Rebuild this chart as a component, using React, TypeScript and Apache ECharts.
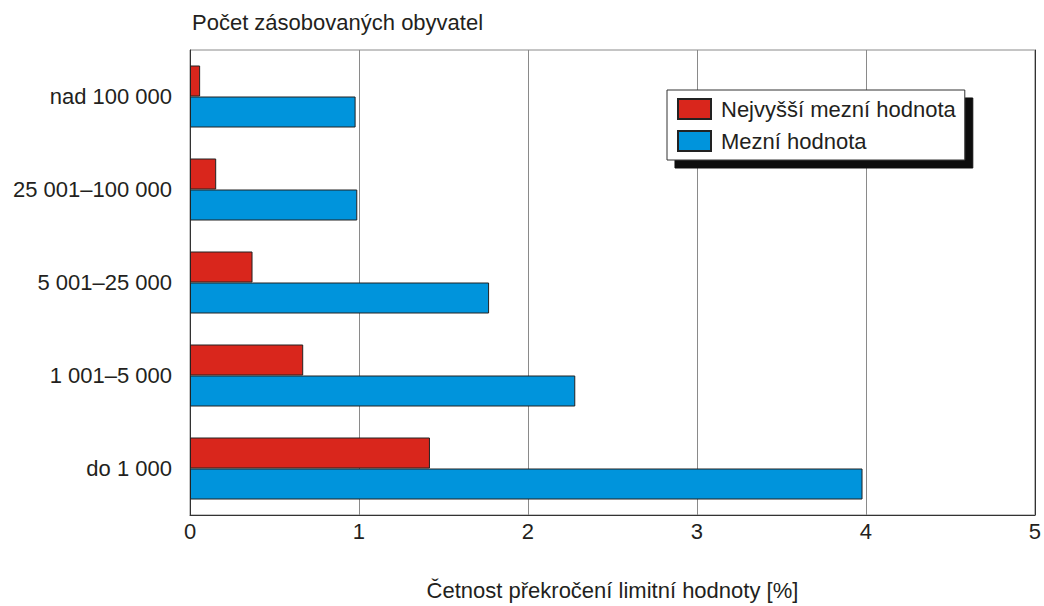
import React, { useEffect, useRef } from "react";
import * as echarts from "echarts";

const categories = ["do 1 000", "1 001–5 000", "5 001–25 000", "25 001–100 000", "nad 100 000"];
const maxLimit = [1.42, 0.67, 0.37, 0.155, 0.06];
const limit = [3.98, 2.28, 1.77, 0.99, 0.98];
const seriesNames = ["Nejvyšší mezní hodnota", "Mezní hodnota"];
const xTicks = [0, 1, 2, 3, 4, 5];

const FONT = "Liberation Sans, Arial, sans-serif";
const TXT = "#231f20";
const FS = 22;

export default function App() {
  const ref = useRef<HTMLDivElement>(null);
  useEffect(() => {
    const chart = echarts.init(ref.current!, null, { renderer: "svg" });
    chart.setOption({
      animation: false,
      textStyle: { fontFamily: FONT, color: TXT },
      title: {
        text: "Počet zásobovaných obyvatel",
        left: 192,
        top: 11,
        padding: 0,
        textStyle: { fontFamily: FONT, fontSize: FS, fontWeight: "normal", color: TXT, lineHeight: 22 },
      },
      grid: {
        left: 190,
        right: 9,
        top: 50,
        bottom: 91,
        show: true,
        borderColor: "#8a8a8a",
        borderWidth: 1,
        containLabel: false,
      },
      legend: {
        orient: "vertical",
        left: 667,
        top: 90,
        data: seriesNames,
        icon: "rect",
        itemWidth: 33,
        itemHeight: 20,
        itemGap: 10,
        padding: [8, 9, 8, 10],
        backgroundColor: "#fff",
        borderColor: "#333",
        borderWidth: 1,
        shadowColor: "#111",
        shadowBlur: 0,
        shadowOffsetX: 8,
        shadowOffsetY: 8,
        textStyle: { fontFamily: FONT, fontSize: FS, color: TXT, lineHeight: 22, padding: [0, 0, 0, 5] },
      },
      xAxis: {
        type: "value",
        min: xTicks[0],
        max: xTicks[xTicks.length - 1],
        interval: 1,
        name: "Četnost překročení limitní hodnoty [%]",
        nameLocation: "middle",
        nameGap: 64,
        nameTextStyle: { fontFamily: FONT, fontSize: FS, color: TXT, lineHeight: 22 },
        axisLine: { show: true, lineStyle: { color: "#333", width: 1 } },
        axisTick: { show: false },
        splitLine: { show: true, lineStyle: { color: "#8a8a8a", width: 1 } },
        axisLabel: { fontFamily: FONT, fontSize: FS, color: TXT, margin: 5, lineHeight: 22 },
      },
      yAxis: [
        {
          type: "category",
          data: categories,
          axisLine: { show: true, lineStyle: { color: "#333", width: 1 } },
          axisTick: { show: false },
          axisLabel: { fontFamily: FONT, fontSize: FS, color: TXT, margin: 18 },
        },
        {
          type: "category",
          data: categories,
          position: "right",
          axisLine: { show: true, lineStyle: { color: "#333", width: 1 } },
          axisTick: { show: false },
          axisLabel: { show: false },
        },
      ],
      series: [
        {
          name: seriesNames[0],
          type: "bar",
          data: maxLimit,
          barWidth: 31,
          barGap: "0%",
          itemStyle: { color: "#d9261c", borderColor: "#222", borderWidth: 1 },
        },
        {
          name: seriesNames[1],
          type: "bar",
          data: limit,
          barWidth: 31,
          barGap: "0%",
          itemStyle: { color: "#0094dc", borderColor: "#222", borderWidth: 1 },
        },
      ],
    });
    return () => chart.dispose();
  }, []);
  return <div ref={ref} style={{ width: 1044, height: 606, position: "absolute", left: 0, top: 0 }} />;
}
